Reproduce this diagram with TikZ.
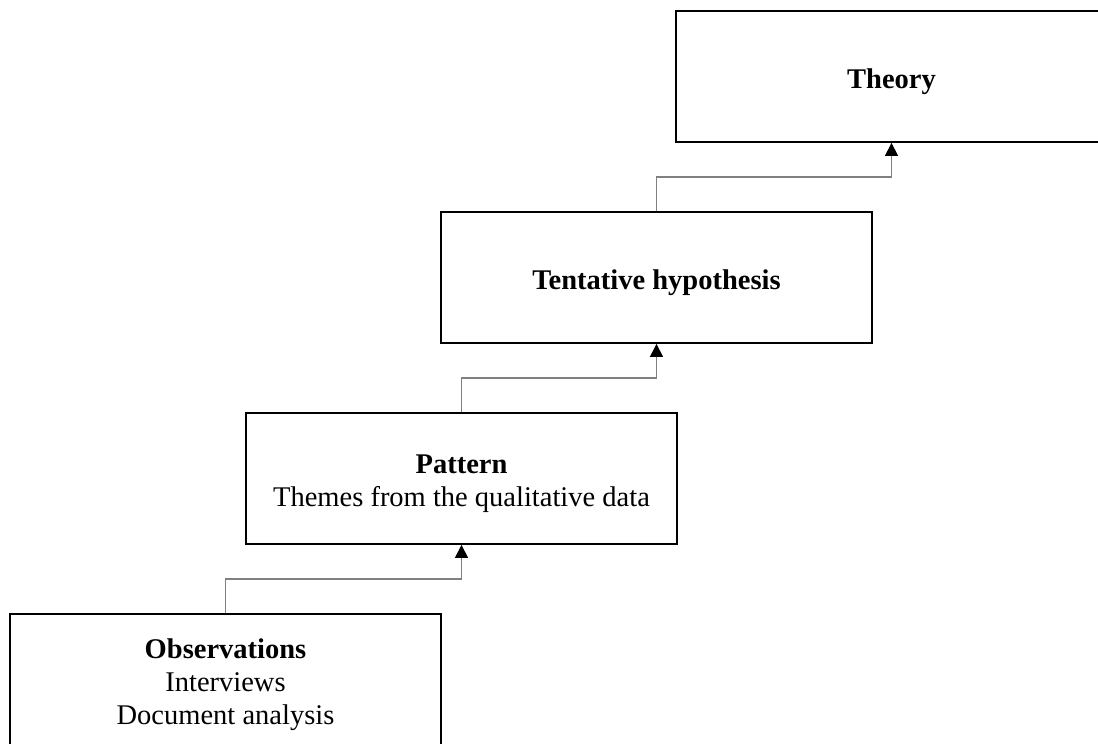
\documentclass[tikz,border=0pt]{standalone}
\usepackage{fontspec}
\setmainfont{Liberation Serif}
\usetikzlibrary{arrows.meta,calc}
\newcommand{\topstrut}{\rule{0pt}{30pt}}
\begin{document}
\begin{tikzpicture}[x=1pt,y=-1pt,
  stage/.style={draw=black, line width=1.8pt, fill=white,
    minimum width=431pt, minimum height=131pt, inner sep=0pt,
    align=center, font=\fontsize{28.5}{33}\selectfont},
  conn/.style={draw=black!50, line width=1.2pt,
    -{Triangle[length=13pt,width=13pt,color=black]}}]
  \useasboundingbox (0,0) rectangle (1098,744);
  \clip (0,0) rectangle (1098,744);
  \fill[white] (0,0) rectangle (1098,744);
  % the four stages, climbing from bottom left to top right
  \node[stage] (obs) at (225.5,679.5) {\topstrut\textbf{Observations}\\Interviews\\Document analysis};
  \node[stage] (pat) at (461.5,478.5) {\topstrut\textbf{Pattern}\\Themes from the qualitative data};
  \node[stage] (hyp) at (656.5,277.5) {\topstrut\textbf{Tentative hypothesis}};
  \node[stage] (the) at (891.5,76.5) {\topstrut\textbf{Theory}};
  % elbow connectors between consecutive stages
  \draw[conn] (obs.north) |- ($(obs.north)!0.5!(pat.south)$) -| (pat.south);
  \draw[conn] (pat.north) |- ($(pat.north)!0.5!(hyp.south)$) -| (hyp.south);
  \draw[conn] (hyp.north) |- ($(hyp.north)!0.5!(the.south)$) -| (the.south);
\end{tikzpicture}
\end{document}
